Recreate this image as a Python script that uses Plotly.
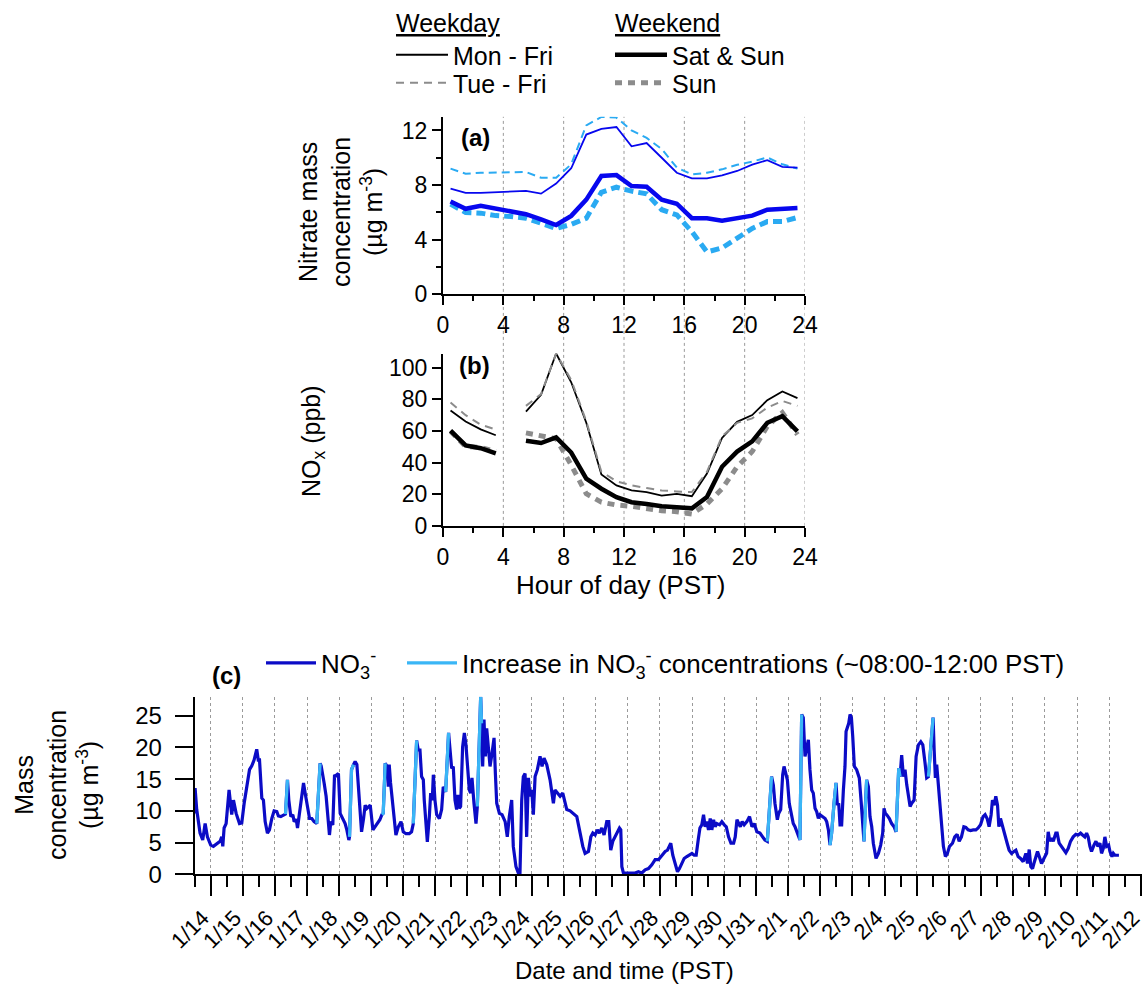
import pandas as pd
import plotly.graph_objects as go

W, H = 1146, 987
FONT = "Liberation Sans, Arial, sans-serif"

# ---------------- Panel (a)/(b): diurnal profiles ----------------
HOUR_BINS = [0.5, 1.5, 2.5, 3.5, 4.5, 5.5, 6.5, 7.5, 8.5, 9.5, 10.5, 11.5,
             12.5, 13.5, 14.5, 15.5, 16.5, 17.5, 18.5, 19.5, 20.5, 21.5, 22.5, 23.5]
HOUR_TICKS = [0, 4, 8, 12, 16, 20, 24]
HOUR_GRID = [4, 8, 12, 16, 20, 24]

NIT_MONFRI = [7.74, 7.42, 7.42, 7.47, 7.52, 7.57, 7.37, 8.11, 9.23, 11.7, 12.12, 12.25,
              10.84, 11.08, 10.0, 8.9, 8.49, 8.49, 8.7, 9.03, 9.5, 9.82, 9.33, 9.28]
NIT_TUEFRI = [9.2, 8.83, 8.9, 8.9, 8.9, 8.95, 8.53, 8.53, 9.52, 12.37, 12.99, 12.94,
              12.0, 11.45, 10.64, 9.28, 8.78, 8.9, 9.15, 9.48, 9.72, 10.02, 9.52, 9.2]
NIT_SATSUN = [6.8, 6.26, 6.48, 6.26, 6.06, 5.86, 5.49, 5.07, 5.74, 6.93, 8.66, 8.73,
              7.92, 7.87, 6.93, 6.63, 5.57, 5.57, 5.39, 5.57, 5.76, 6.19, 6.26, 6.31]
NIT_SUN = [6.6, 5.99, 5.94, 5.76, 5.69, 5.57, 5.2, 4.82, 5.12, 5.57, 7.47, 7.84,
           7.55, 7.35, 6.19, 5.81, 4.58, 3.09, 3.39, 4.08, 4.82, 5.32, 5.32, 5.62]

NOX_MONFRI = [73, 66, 61, 57.3, None, 72.2, 82.9, 109, 90.8, 65.2, 32.5, 25.6,
              22.4, 21.4, 19.2, 20.3, 18.8, 33.1, 55.6, 65.8, 70.1, 79.5, 85, 80.8]
NOX_TUEFRI = [78, 70, 64, 60.9, None, 75.9, 83.3, 109, 92.3, 66.2, 34.2, 28.2,
              25.6, 23.9, 22.4, 21.8, 21.4, 34.2, 56.6, 65.2, 68, 74.8, 79, 75.9]
NOX_SATSUN = [60.3, 50.9, 49.1, 45.9, None, 53.8, 52.4, 56, 46.4, 29.9, 23.5, 18.2,
              15, 13.9, 12.4, 11.8, 11.1, 18.2, 37.4, 47, 53.4, 65.2, 69.4, 59.8]
NOX_SUN = [59.8, 50.2, 49.6, 47, None, 58.8, 56.6, 55.1, 38.5, 20.3, 15, 13.2,
           12.4, 10.7, 9.6, 9, 7.5, 13.9, 23.5, 37.4, 47, 63, 71.6, 57.7]

# ---------------- Panel (c): NO3- time series ----------------
START = "2013-01-14 00:00"   # hours below are counted from this time
NO3_READINGS = [
    (-12.5, 9.6), (-11.7, 13.6), (-10.5, 10.2), (-9.2, 8.6), (-8, 6.5), (-6, 5.4), (-4.2, 8.0),
    (-2.5, 5.9), (0, 4.6), (2, 4.4), (4.5, 4.8), (7, 5.2), (8.2, 5.9), (9, 4.4), (10, 7.3),
    (11.5, 8.0), (13.7, 13.3), (15, 11.2), (15.7, 9.4), (17, 11.7), (19, 9.6), (21.5, 8.0),
    (23.2, 8.1), (25, 11.2), (26.4, 13.3), (29, 16.5), (30.7, 17.1), (32.4, 18.0), (34.4, 19.7),
    (35.7, 17.8), (36.4, 18.3), (37.4, 15.4), (38.2, 12.0), (39.4, 11.7), (40.7, 8.3), (42.4, 6.5),
    (43.9, 7.0), (45.7, 8.8), (47.4, 10.0), (49.4, 9.9), (50.6, 9.2), (52.4, 9.1), (54.4, 9.4),
    (55.9, 9.5), (57.4, 14.9), (58.4, 11.7), (59.9, 9.1), (61.4, 9.4), (62.4, 8.3), (63.9, 8.7),
    (64.9, 7.3), (66.9, 10.2), (69.4, 14.4), (70.6, 12.8), (72.4, 10.7), (73.9, 8.8), (75.6, 8.8),
    (77.3, 8.3), (79.3, 8.0), (81.8, 17.5), (82.6, 17.1), (83.8, 15.2), (84.8, 14.4), (86.3, 12.3),
    (87.3, 9.1), (88.8, 6.2), (89.8, 8.3), (91.3, 7.8), (92.6, 15.7), (93.8, 15.4), (94.3, 15.7),
    (95.5, 15.9), (96.8, 9.6), (98.8, 8.8), (100.5, 8.0), (101.8, 7.0), (103.3, 5.4), (103.8, 5.9),
    (105.3, 16.5), (106.8, 17.3), (108, 17.8), (109.3, 17.3), (110.5, 13.3), (111.8, 8.6),
    (112.8, 6.7), (114.3, 8.8), (115.5, 10.9), (116.8, 10.4), (118, 10.7), (119.3, 10.9),
    (121.3, 7.0), (123, 7.5), (125.5, 8.3), (126.5, 8.6), (128, 9.4), (129, 9.6), (130.5, 17.5),
    (132, 17.0), (132.8, 13.8), (133.5, 17.3), (134.5, 14.4), (136, 11.7), (137, 9.6), (138.5, 6.2),
    (140.3, 7.5), (142.3, 8.3), (144, 6.7), (146, 6.4), (148.5, 6.4), (150.2, 6.7), (151.5, 8.0),
    (154, 21.1), (155.2, 19.6), (156.5, 19.6), (157.7, 15.4), (159, 14.9), (159.7, 11.7), (161, 7.0),
    (162, 5.1), (163.5, 9.1), (164.5, 12.8), (165.7, 11.7), (166.5, 15.7), (167.7, 11.7), (169, 9.4),
    (171, 8.8), (172.7, 10.2), (173.9, 13.8), (175.7, 13.0), (177.9, 22.3), (178.9, 19.1),
    (180.2, 16.7), (181.4, 17.0), (182.7, 11.7), (183.9, 10.2), (184.9, 12.5), (185.9, 10.4),
    (186.9, 10.7), (188.4, 20.1), (189.7, 22.3), (190.9, 20.4), (191.9, 17.5), (193.4, 13.3),
    (194.4, 12.8), (195.4, 15.2), (196.9, 11.2), (198.4, 8.0), (199.4, 10.7), (200.6, 21.2),
    (201.9, 28.0), (202.6, 23.8), (203.4, 17.0), (204.4, 24.4), (205.4, 18.6), (206.4, 23.0),
    (207.6, 19.6), (208.9, 17.0), (210.4, 19.1), (211.9, 21.5), (212.9, 15.9), (213.9, 11.2),
    (215.9, 9.6), (217.9, 9.4), (220.2, 8.3), (221.8, 5.9), (223.3, 9.1), (225.1, 11.7), (226.3, 4.4),
    (228.3, 1.2), (230.1, 0.2), (231.3, 0.2), (232.6, 11.7), (233.8, 15.4), (235.1, 15.9),
    (236.3, 5.9), (237.6, 15.2), (238.8, 12.3), (240.1, 13.3), (241.3, 9.4), (242.6, 15.4),
    (244.3, 16.5), (246.3, 18.6), (247.8, 17.0), (249.3, 18.3), (251.3, 17.3), (253.8, 14.9),
    (255, 13.3), (256.3, 11.2), (257.5, 13.3), (258.8, 13.0), (261.3, 12.3), (263.3, 12.8),
    (264.5, 11.7), (266.3, 10.2), (268.8, 10.0), (271.8, 9.5), (273.8, 9.1), (276.3, 6.5),
    (278.3, 4.4), (280, 3.3), (282.5, 3.6), (284.3, 5.9), (285.8, 6.5), (287.5, 6.2), (289.2, 7.0),
    (290.7, 6.5), (292.5, 7.3), (294.2, 6.2), (296.2, 8.3), (297.7, 8.3), (299.2, 3.8), (300.7, 5.2),
    (302.5, 5.9), (304.2, 6.5), (305.7, 7.3), (306.7, 7.0), (307.5, 1.2), (308.7, 0.2), (311.3, 0.2),
    (313.7, 0.2), (317.4, 0.2), (319.9, 0.4), (322.4, 0.2), (324.9, 0.7), (327.4, 0.9), (329.9, 1.5),
    (332.4, 2.3), (334.9, 2.3), (337.4, 3.0), (339.9, 3.6), (341.6, 3.8), (343.1, 4.6), (344.1, 4.9),
    (345.6, 3.0), (347.4, 1.7), (349.1, 0.4), (350.6, 0.9), (352.4, 1.7), (354.1, 2.5), (356.1, 2.8),
    (358.1, 3.0), (359.9, 3.3), (361.6, 3.0), (363.1, 3.0), (364.6, 5.4), (365.9, 7.3), (367.3, 7.8),
    (368.6, 9.4), (369.8, 7.5), (371.1, 8.3), (372.3, 7.0), (373.6, 8.8), (374.8, 7.0), (376.1, 8.6),
    (377.3, 7.5), (378.6, 8.0), (380.6, 7.8), (382.3, 8.3), (384.1, 7.8), (385.6, 7.5), (387.3, 5.9),
    (389.1, 4.9), (391.1, 4.9), (392.3, 5.9), (393.6, 8.6), (394.8, 8.0), (396.1, 7.5), (397.5, 8.3),
    (399.0, 7.8), (401.0, 8.3), (403.0, 9.1), (404.8, 7.5), (406.5, 8.0), (408.5, 6.7), (410.8, 6.5),
    (412.8, 5.9), (414.5, 5.4), (416.3, 5.2), (419.5, 15.4), (420.8, 14.1), (422.0, 11.2),
    (423.8, 8.6), (424.8, 9.6), (426.3, 10.2), (427.8, 15.7), (428.8, 17.0), (430.3, 15.4),
    (431.3, 14.9), (432.7, 11.2), (434.5, 8.8), (435.7, 8.0), (437.0, 7.5), (438.7, 6.5),
    (440.7, 5.4), (442.0, 25.2), (443.2, 24.7), (444.5, 18.6), (445.7, 20.1), (447, 21.2),
    (448.2, 16.5), (449.5, 13.3), (450.7, 12.8), (452, 10.4), (453.2, 9.9), (454.5, 8.8),
    (455.7, 9.4), (457.7, 9.1), (459.5, 8.8), (460.7, 8.3), (462, 7.0), (463.2, 4.6), (464.4, 6.5),
    (466.2, 11.2), (467.7, 14.4), (468.7, 10.9), (469.7, 11.2), (470.7, 7.8), (471.9, 7.8),
    (473.2, 13.3), (474.4, 17.0), (475.2, 22.5), (476.2, 23.3), (477.2, 23.8), (478.2, 25.2),
    (479.2, 24.7), (480.2, 21.7), (481.4, 17.0), (483.1, 16.5), (485.1, 15.2), (486.4, 11.7),
    (487.6, 8.0), (488.6, 5.2), (489.6, 10.7), (490.6, 14.9), (491.9, 13.8), (493.1, 9.1),
    (494.4, 7.5), (495.6, 4.9), (497.6, 2.5), (499.4, 3.3), (501.1, 4.6), (502.6, 6.5), (503.6, 10.4),
    (504.6, 9.6), (505.6, 9.4), (507.6, 8.8), (509.3, 8.0), (511.1, 7.5), (512.6, 6.7), (513.6, 12.3),
    (514.6, 16.7), (515.6, 15.4), (516.8, 18.8), (518.1, 15.4), (519.3, 16.5), (520.6, 14.1),
    (521.8, 12.5), (523.1, 10.7), (524.3, 11.2), (526.1, 11.7), (527.6, 18.6), (529.3, 20.4),
    (531.1, 20.9), (532.6, 20.4), (534.3, 17.5), (535.5, 15.2), (536.8, 15.4), (538.0, 18.3),
    (539.3, 21.2), (540.3, 24.7), (541.1, 19.6), (542.0, 15.2), (543.0, 17.3), (544.3, 13.8),
    (545.5, 10.7), (546.8, 7.0), (548.0, 4.4), (549.5, 2.8), (551.0, 3.3), (552.6, 4.4),
    (554.8, 4.9), (556.5, 5.9), (558.3, 6.3), (559.8, 5.2), (561.5, 5.9), (563.3, 7.5), (564.8, 7.4),
    (566.5, 7.0), (568.3, 6.9), (570.3, 7.0), (572.3, 7.0), (574.0, 7.3), (575.8, 7.8), (577.7, 9.1),
    (579.2, 9.4), (580.7, 8.8), (582.2, 7.5), (583.7, 9.4), (584.7, 11.7), (586.0, 10.9),
    (587.2, 12.3), (588.5, 10.9), (589.5, 7.5), (590.7, 8.8), (592.2, 7.5), (594.0, 5.9),
    (595.7, 4.9), (597.2, 3.8), (599.0, 3.3), (600.7, 3.6), (602.2, 3.8), (603.9, 2.8), (605.7, 2.5),
    (607.7, 2.0), (609.7, 3.3), (610.9, 1.7), (612.2, 3.9), (613.4, 1.2), (614.7, 0.9), (615.7, 1.7),
    (617.2, 3.0), (618.4, 3.6), (619.7, 2.8), (621.4, 1.7), (623.2, 2.5), (625.2, 3.3), (626.4, 6.7),
    (627.6, 5.2), (628.9, 5.7), (630.2, 5.2), (632.1, 6.5), (633.1, 6.5), (634.6, 4.9), (636.4, 4.4),
    (638.1, 3.8), (639.6, 3.4), (641.4, 4.1), (643.1, 5.2), (645.1, 5.9), (647.1, 6.3), (648.9, 6.2),
    (650.6, 6.5), (652.1, 6.2), (653.8, 5.9), (655.1, 6.5), (656.3, 5.9), (657.6, 4.4), (658.8, 3.6),
    (660.6, 4.6), (662.1, 5.2), (663.6, 4.4), (665.1, 4.9), (666.3, 3.3), (667.6, 4.1), (668.8, 5.9),
    (670.1, 4.4), (671.6, 4.6), (672.6, 3.6), (674.1, 2.8), (675.1, 3.3), (676.3, 3.0), (677.6, 3.0),
    (679.3, 3.0),
]
NO3_HOURS = [h for h, _ in NO3_READINGS]
NO3_VALUES = [v for _, v in NO3_READINGS]
INCREASE_WINDOWS = [(55.5, 57.5), (79, 82), (103.5, 107), (127.5, 131), (151, 154.5),
                    (175.5, 178), (199, 203), (416, 420), (440.5, 442.5), (463, 468),
                    (488.5, 491), (512.5, 516), (536.5, 540.5)]
C_RANGE = ["2013-01-13 12:00", "2013-02-12 00:20"]

# ---------------- colours ----------------
BLUE = "#0707EE"
LBLUE = "#2AAAF2"
DBLUE = "#0B0BC6"
LBLUE_C = "#3AB6F6"
GRAY = "#8C8C8C"

no3_times = pd.Timestamp(START) + pd.to_timedelta(NO3_HOURS, unit="h")
no3_increase = [v if any(a <= h <= b for a, b in INCREASE_WINDOWS) else None
                for h, v in zip(NO3_HOURS, NO3_VALUES)]

fig = go.Figure()

# Panel (a)
fig.add_trace(go.Scatter(x=HOUR_BINS, y=NIT_SUN, mode="lines", xaxis="x", yaxis="y",
                         line=dict(color=LBLUE, width=5, dash="9px,5px"), showlegend=False))
fig.add_trace(go.Scatter(x=HOUR_BINS, y=NIT_SATSUN, mode="lines", xaxis="x", yaxis="y",
                         line=dict(color=BLUE, width=4.5), showlegend=False))
fig.add_trace(go.Scatter(x=HOUR_BINS, y=NIT_TUEFRI, mode="lines", xaxis="x", yaxis="y",
                         line=dict(color=LBLUE, width=2, dash="8px,5px"), showlegend=False))
fig.add_trace(go.Scatter(x=HOUR_BINS, y=NIT_MONFRI, mode="lines", xaxis="x", yaxis="y",
                         line=dict(color=BLUE, width=1.8), showlegend=False))

# Panel (b) (these traces also supply the top legend keys)
fig.add_trace(go.Scatter(x=HOUR_BINS, y=NOX_MONFRI, mode="lines", xaxis="x2", yaxis="y2",
                         name="Mon - Fri", legend="legend",
                         line=dict(color="black", width=1.8)))
fig.add_trace(go.Scatter(x=HOUR_BINS, y=NOX_TUEFRI, mode="lines", xaxis="x2", yaxis="y2",
                         name="Tue - Fri", legend="legend2",
                         line=dict(color=GRAY, width=2, dash="8px,6px")))
fig.add_trace(go.Scatter(x=HOUR_BINS, y=NOX_SUN, mode="lines", xaxis="x2", yaxis="y2",
                         name="Sun", legend="legend4",
                         line=dict(color=GRAY, width=5, dash="7px,6px")))
fig.add_trace(go.Scatter(x=HOUR_BINS, y=NOX_SATSUN, mode="lines", xaxis="x2", yaxis="y2",
                         name="Sat & Sun", legend="legend3",
                         line=dict(color="black", width=4.5)))

# Panel (c)
fig.add_trace(go.Scatter(x=no3_times, y=NO3_VALUES, mode="lines", xaxis="x3", yaxis="y3",
                         name="NO<sub>3</sub><sup>-</sup>", legend="legend5",
                         line=dict(color=DBLUE, width=3.2)))
fig.add_trace(go.Scatter(x=no3_times, y=no3_increase, mode="lines", xaxis="x3", yaxis="y3",
                         name="Increase in NO<sub>3</sub><sup>-</sup> concentrations (~08:00-12:00 PST)",
                         legend="legend6", connectgaps=False,
                         line=dict(color=LBLUE_C, width=3.2)))

# ---------------- geometry (pixels -> paper) ----------------
AX_X = [443 / W, 805 / W]
A_Y = [1 - 294.2 / H, 1 - 116.8 / H]
B_Y = [1 - 525.9 / H, 1 - 353.5 / H]
C_X = [194.7 / W, 1141.7 / W]
C_Y = [1 - 874.3 / H, 1 - 696.7 / H]

axis_common = dict(showline=True, linewidth=2, linecolor="black", ticks="outside",
                   tickwidth=2, tickcolor="black", showgrid=False, zeroline=False,
                   automargin=False,
                   tickfont=dict(size=23, color="black", family=FONT))
minor_hours = dict(dtick=2, tick0=0, ticks="outside", ticklen=5, tickwidth=2, tickcolor="black")


def key_legend(px_x, px_y, size, width):
    return dict(x=px_x / W, y=1 - px_y / H, xanchor="left", yanchor="middle",
                font=dict(size=size, family=FONT, color="black"), bgcolor="rgba(0,0,0,0)",
                itemwidth=width, borderwidth=0)


fig.update_layout(
    width=W, height=H,
    margin=dict(l=0, r=0, t=0, b=0, autoexpand=False),
    paper_bgcolor="white", plot_bgcolor="rgba(0,0,0,0)",
    font=dict(family=FONT, color="black", size=23),
    xaxis=dict(domain=AX_X, anchor="y", range=[0, 24], tickvals=HOUR_TICKS, ticklen=9,
               minor=minor_hours, **axis_common),
    yaxis=dict(domain=A_Y, anchor="x", range=[0, 13], tickvals=[0, 4, 8, 12], ticklen=9,
               minor=minor_hours, **axis_common),
    xaxis2=dict(domain=AX_X, anchor="y2", range=[0, 24], tickvals=HOUR_TICKS, ticklen=9,
                minor=minor_hours, **axis_common),
    yaxis2=dict(domain=B_Y, anchor="x2", range=[0, 109], tickvals=[0, 20, 40, 60, 80, 100],
                ticklen=9, **axis_common),
    xaxis3=dict(domain=C_X, anchor="y3", type="date", range=C_RANGE,
                tick0="2013-01-14", dtick=86400000, tickformat="%-m/%-d", tickangle=-45,
                ticklen=20, showline=True, linewidth=2, linecolor="black", ticks="outside",
                tickwidth=2, tickcolor="black", zeroline=False, automargin=False,
                ticklabeloverflow="allow", ticklabelshift=-8,
                showgrid=True, gridcolor="#9A9A9A", gridwidth=1, griddash="dot",
                minor=dict(dtick=43200000, tick0="2013-01-14", ticks="outside", ticklen=11,
                           tickwidth=2, tickcolor="black", showgrid=False),
                tickfont=dict(size=22, color="black", family=FONT)),
    yaxis3=dict(domain=C_Y, anchor="x3", range=[0, 28], tickvals=[0, 5, 10, 15, 20, 25],
                ticklen=18, ticklabelstandoff=8,
                **{**axis_common, "tickfont": dict(size=24, color="black", family=FONT)}),
    legend=key_legend(391, 55, 25, 52),
    legend2=key_legend(391, 83, 25, 52),
    legend3=key_legend(610, 55, 25, 52),
    legend4=key_legend(610, 83, 25, 52),
    legend5=key_legend(261, 663, 26, 50),
    legend6=key_legend(402, 663, 26, 50),
)

# dotted hour gridlines running through panels (a) and (b)
for g in HOUR_GRID:
    fig.add_shape(type="line", xref="x", yref="paper", x0=g, x1=g, y0=B_Y[0], y1=A_Y[1],
                  line=dict(color="#9A9A9A", width=1, dash="dot"), layer="below")

ann = [
    dict(text="<u>Weekday</u>", x=448 / W, y=1 - 23 / H, size=25, angle=0),
    dict(text="<u>Weekend</u>", x=667 / W, y=1 - 23 / H, size=25, angle=0),
    dict(text="<b>(a)</b>", x=475 / W, y=1 - 138 / H, size=24, angle=0),
    dict(text="<b>(b)</b>", x=474 / W, y=1 - 365 / H, size=24, angle=0),
    dict(text="<b>(c)</b>", x=226 / W, y=1 - 675 / H, size=24, angle=0),
    dict(text="Nitrate mass<br>concentration<br>(µg m<sup>-3</sup>)", x=340 / W, y=1 - 212 / H, size=25, angle=-90),
    dict(text="NO<sub>x</sub> (ppb)", x=313 / W, y=1 - 441 / H, size=25, angle=-90),
    dict(text="Hour of day (PST)", x=621 / W, y=1 - 585 / H, size=26, angle=0),
    dict(text="Mass<br>concentration<br>(µg m<sup>-3</sup>)", x=56 / W, y=1 - 785 / H, size=25, angle=-90),
    dict(text="Date and time (PST)", x=624 / W, y=1 - 970 / H, size=24, angle=0),
]
for a in ann:
    fig.add_annotation(text=a["text"], x=a["x"], y=a["y"], xref="paper", yref="paper",
                       xanchor="center", yanchor="middle", showarrow=False, textangle=a["angle"],
                       font=dict(size=a["size"], family=FONT, color="black"))

fig.write_html("out.html")
